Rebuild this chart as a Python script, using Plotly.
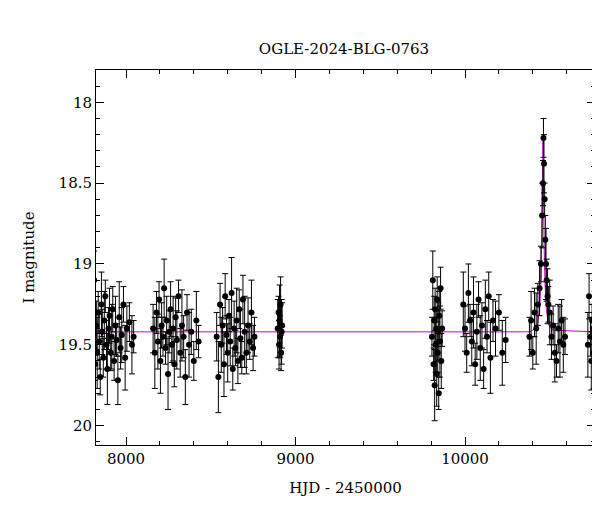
import plotly.graph_objects as go

s1_t=[7805,7812,7818,7825,7830,7836,7842,7848,7855,7860,7866,7872,7878,7885,7890,7897,7903,7910,7916,7922,7930,7938,7945,7952,7960,7968,7975,7985,7995,8005,8020,8035,8045]
s1_m=[19.45,19.10,19.62,19.38,19.55,19.30,19.48,19.70,19.25,19.42,19.58,19.35,19.20,19.50,19.65,19.40,19.32,19.55,19.45,19.28,19.60,19.38,19.47,19.72,19.33,19.52,19.44,19.25,19.58,19.40,19.36,19.50,19.45]
s2_t=[8160,8170,8180,8188,8195,8203,8210,8218,8225,8233,8240,8248,8255,8263,8270,8278,8285,8293,8300,8310,8320,8330,8340,8350,8360,8372,8385,8400,8415,8428]
s2_m=[19.40,19.55,19.30,19.48,19.22,19.60,19.38,19.45,19.15,19.52,19.35,19.68,19.42,19.28,19.50,19.40,19.62,19.33,19.47,19.20,19.55,19.38,19.45,19.70,19.30,19.50,19.42,19.60,19.35,19.48]
s3_t=[8535,8545,8555,8562,8570,8578,8585,8593,8600,8608,8615,8623,8630,8638,8645,8653,8660,8668,8675,8683,8690,8700,8710,8720,8730,8740,8750,8758]
s3_m=[19.45,19.70,19.25,19.50,19.38,19.62,19.20,19.44,19.55,19.32,19.48,19.18,19.65,19.40,19.52,19.35,19.60,19.28,19.46,19.58,19.22,19.42,19.55,19.38,19.48,19.30,19.52,19.45]
s4_t=[8895,8900,8903,8906,8909,8912,8915,8918,8921]
s4_m=[19.40,19.30,19.50,19.35,19.45,19.25,19.55,19.42,19.38]
s5_t=[9805,9810,9815,9818,9821,9824,9827,9830,9833,9836,9839,9842,9845,9848,9852,9856,9860,9865]
s5_m=[19.45,19.10,19.62,19.35,19.75,19.28,19.50,19.40,19.68,19.22,19.55,19.42,19.80,19.32,19.48,19.15,19.60,19.40]
s6_t=[9990,10000,10010,10020,10030,10040,10050,10060,10070,10080,10090,10100,10110,10120,10130,10140,10150,10165,10180,10200,10220,10240]
s6_m=[19.25,19.40,19.55,19.18,19.35,19.48,19.30,19.62,19.42,19.22,19.52,19.38,19.65,19.28,19.45,19.20,19.58,19.35,19.40,19.30,19.55,19.47]
s7_t=[10380,10390,10400,10410,10420,10430,10440,10448,10455,10460,10463,10466,10470,10474,10478,10482,10487,10492,10500,10510,10520,10530,10540,10550,10560,10570,10580,10590]
s7_m=[19.45,19.35,19.55,19.30,19.40,19.25,19.15,19.00,18.70,18.50,18.22,18.38,18.60,18.85,19.00,19.10,19.20,19.25,19.30,19.45,19.38,19.55,19.60,19.40,19.48,19.35,19.50,19.45]
s8_t=[10725,10732,10740,10745,10750,10755,10760,10765]
s8_m=[19.50,19.20,19.45,19.60,19.35,19.40,19.55,19.30]
err_pattern=[0.12,0.18,0.10,0.15,0.22,0.13,0.17,0.11,0.20,0.14]

model_t=[7770,10380,10400,10420,10430,10440,10448,10453,10457,10460,10463,10467,10472,10480,10490,10500,10520,10770]
model_m=[19.42,19.42,19.41,19.39,19.36,19.28,19.12,18.90,18.60,18.23,18.60,18.90,19.12,19.28,19.36,19.39,19.41,19.42]

t=s1_t+s2_t+s3_t+s4_t+s5_t+s6_t+s7_t+s8_t
m=s1_m+s2_m+s3_m+s4_m+s5_m+s6_m+s7_m+s8_m
e=[err_pattern[i%len(err_pattern)] for i in range(len(t))]

fig=go.Figure()
fig.add_trace(go.Scatter(x=model_t,y=model_m,mode='lines',line=dict(color='#d000d0',width=1)))
fig.add_trace(go.Scatter(x=t,y=m,mode='markers',marker=dict(color='black',size=6),
    error_y=dict(type='data',array=e,color='black',thickness=1,width=3)))
font=dict(family='DejaVu Serif',size=15,color='black')
ax=dict(showgrid=False,zeroline=False,ticks='inside',mirror='allticks',showline=True,linecolor='black',
        linewidth=1,ticklen=8,tickcolor='black',tickfont=font,automargin=False)
fig.update_layout(width=600,height=512,plot_bgcolor='white',paper_bgcolor='white',showlegend=False,
    margin=dict(l=88,r=13,t=62,b=75),font=font,
    title=dict(text='OGLE-2024-BLG-0763',x=0.56,y=0.93,xanchor='center',font=font),
    xaxis=dict(ax,range=[7823,10767],dtick=1000,tickformat='d',title=dict(text='HJD - 2450000',font=font),
               minor=dict(dtick=200,ticks='inside',ticklen=4,tickcolor='black')),
    yaxis=dict(ax,range=[20.12,17.8],dtick=0.5,title=dict(text='I magnitude',font=font,standoff=20),
               minor=dict(dtick=0.1,ticks='inside',ticklen=4,tickcolor='black')))
fig.write_html('out.html')
